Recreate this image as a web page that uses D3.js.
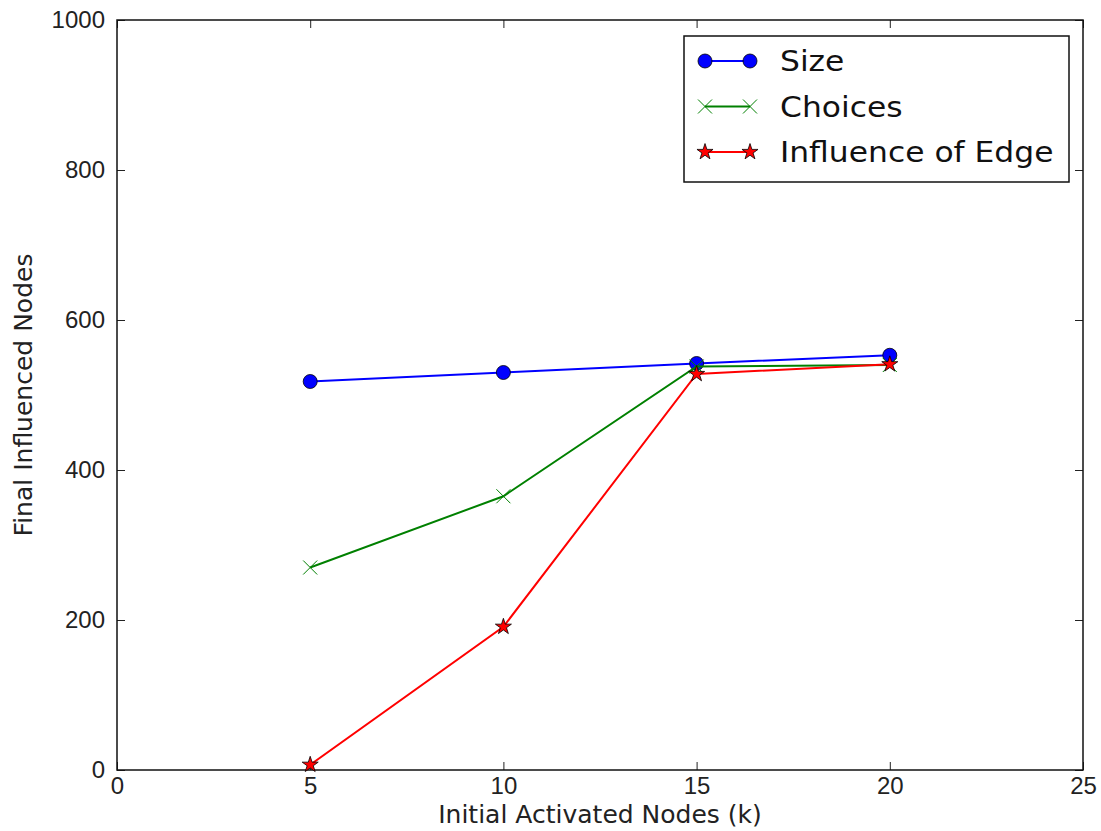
<!DOCTYPE html>
<html>
<head>
<meta charset="utf-8">
<script src="https://cdn.jsdelivr.net/npm/d3@7"></script>
<style>
  body { margin: 0; background: #fff; }
  svg { font-family: "DejaVu Sans", sans-serif; }
</style>
</head>
<body>
<svg id="chart" width="1101" height="831"></svg>
<script>
const kValues = [5, 10, 15, 20];
const sizeValues = [518, 530, 542, 553];
const choicesValues = [270, 365, 538, 540];
const edgeValues = [7, 191, 528, 541];
const xTicks = [0, 5, 10, 15, 20, 25];
const yTicks = [0, 200, 400, 600, 800, 1000];

const series = [
    { name: "Size", values: sizeValues, color: "#0000ff", marker: "circle" },
    { name: "Choices", values: choicesValues, color: "#008000", marker: "x" },
    { name: "Influence of Edge", values: edgeValues, color: "#ff0000", marker: "star" }
];

const margin = { top: 20, right: 18, bottom: 61, left: 117 };
const W = 1101, H = 831;
const width = W - margin.left - margin.right;
const height = H - margin.top - margin.bottom;

const svg = d3.select("#chart");
const g = svg.append("g").attr("transform", `translate(${margin.left},${margin.top})`);

const x = d3.scaleLinear().domain([0, 25]).range([0, width]);
const y = d3.scaleLinear().domain([0, 1000]).range([height, 0]);

// Ticks on all four sides, pointing inward
const tickLen = 8;
g.append("g")
    .attr("transform", `translate(0,${height})`)
    .call(d3.axisBottom(x).tickValues(xTicks).tickFormat(d3.format("d")).tickSizeInner(-tickLen).tickSizeOuter(0).tickPadding(7))
    .call(a => a.select(".domain").remove())
    .call(a => a.selectAll("text").attr("font-size", 24).attr("fill", "#222"));
g.append("g")
    .call(d3.axisTop(x).tickValues(xTicks).tickSizeInner(-tickLen).tickSizeOuter(0).tickFormat(""))
    .call(a => a.select(".domain").remove());
g.append("g")
    .call(d3.axisLeft(y).tickValues(yTicks).tickFormat(d3.format("d")).tickSizeInner(-tickLen).tickSizeOuter(0).tickPadding(12))
    .call(a => a.select(".domain").remove())
    .call(a => a.selectAll("text").attr("font-size", 24).attr("fill", "#222"));
g.append("g")
    .attr("transform", `translate(${width},0)`)
    .call(d3.axisRight(y).tickValues(yTicks).tickSizeInner(-tickLen).tickSizeOuter(0).tickFormat(""))
    .call(a => a.select(".domain").remove());

g.selectAll(".tick line").attr("stroke", "#222").attr("stroke-width", 1);

// Frame
g.append("rect")
    .attr("width", width).attr("height", height)
    .attr("fill", "none").attr("stroke", "#111").attr("stroke-width", 1.5);

// Marker drawing helper
const starPath = d3.symbol().type(d3.symbolStar).size(80)();
function drawMarker(sel, s) {
    if (s.marker === "circle") {
        sel.append("circle").attr("r", 7)
            .attr("fill", s.color).attr("stroke", "#000").attr("stroke-width", 0.8);
    } else if (s.marker === "x") {
        sel.append("path").attr("d", "M-7,-7L7,7M-7,7L7,-7")
            .attr("stroke", s.color).attr("stroke-width", 1).attr("fill", "none");
    } else {
        sel.append("path").attr("d", starPath)
            .attr("fill", s.color).attr("stroke", "#000").attr("stroke-width", 0.8);
    }
}

const line = d3.line().x(d => x(d.k)).y(d => y(d.v));

series.forEach(s => {
    const data = kValues.map((k, i) => ({ k, v: s.values[i] }));
    g.append("path")
        .datum(data)
        .attr("fill", "none")
        .attr("stroke", s.color)
        .attr("stroke-width", 2)
        .attr("d", line);
    data.forEach(d => {
        const m = g.append("g").attr("transform", `translate(${x(d.k)},${y(d.v)})`);
        drawMarker(m, s);
    });
});

// Legend
const legend = svg.append("g").attr("transform", "translate(684,36)");
legend.append("rect")
    .attr("width", 385).attr("height", 146)
    .attr("fill", "#fff").attr("stroke", "#111").attr("stroke-width", 1.5);
series.forEach((s, i) => {
    const row = legend.append("g").attr("transform", `translate(0,${25 + i * 45.5})`);
    row.append("line").attr("x1", 21).attr("x2", 66)
        .attr("stroke", s.color).attr("stroke-width", 2);
    [21, 66].forEach(px => drawMarker(row.append("g").attr("transform", `translate(${px},0)`), s));
    row.append("text")
        .attr("transform", "translate(96,0) scale(1.12,1)")
        .attr("dy", "0.36em")
        .attr("font-size", 28).attr("fill", "#111").text(s.name);
});

// Axis labels
svg.append("text")
    .attr("x", margin.left + width / 2).attr("y", 823)
    .attr("text-anchor", "middle").attr("font-size", 25).attr("fill", "#222")
    .text("Initial Activated Nodes (k)");
svg.append("text")
    .attr("transform", `translate(32,${margin.top + height / 2}) rotate(-90)`)
    .attr("text-anchor", "middle").attr("font-size", 25).attr("fill", "#222")
    .text("Final Influenced Nodes");
</script>
</body>
</html>
